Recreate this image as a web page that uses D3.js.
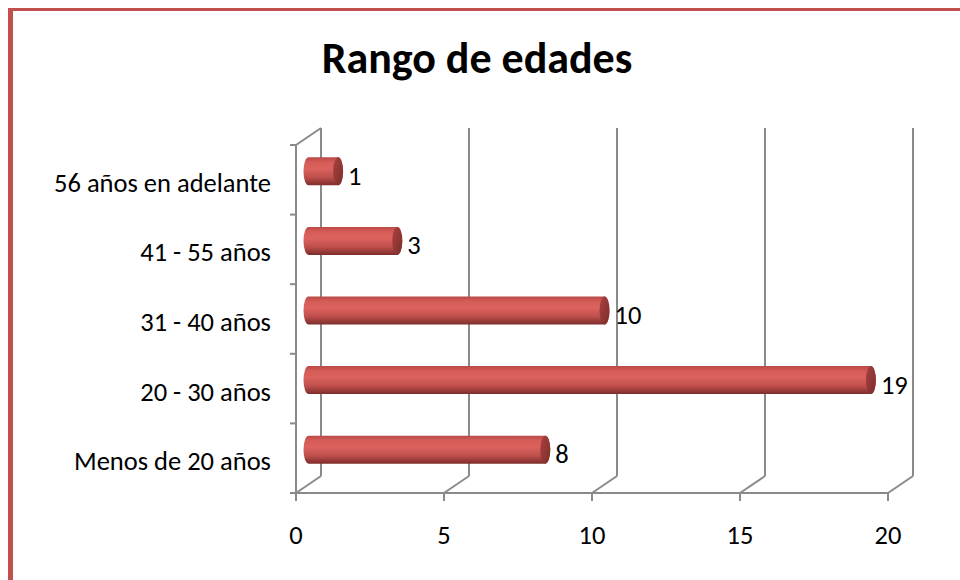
<!DOCTYPE html>
<html>
<head>
<meta charset="utf-8">
<script src="https://cdn.jsdelivr.net/npm/d3@7"></script>
<style>
  body { margin: 0; background: #fff; }
  svg { display: block; font-family: Carlito, Lato, "Liberation Sans", sans-serif; }
</style>
</head>
<body>
<svg id="chart" width="960" height="580"></svg>
<script>
// Data
const categories = ["56 años en adelante", "41 - 55 años", "31 - 40 años", "20 - 30 años", "Menos de 20 años"];
const values = [1, 3, 10, 19, 8];
const xTicks = [0, 5, 10, 15, 20];
const title = "Rango de edades";

const width = 960;
const height = 580;
const depth = { dx: 25, dy: -17 };   // 3d offset front -> back wall
const plot = { left: 296, right: 888, top: 145, bottom: 493 };
const labelSize = 26.5;

const svg = d3.select("#chart");

// Chart border (only left/top visible in frame)
svg.append("rect").attr("x", 8).attr("y", 8).attr("width", 5).attr("height", height).attr("fill", "#c0504d");
svg.append("rect").attr("x", 8).attr("y", 8).attr("width", width).attr("height", 3).attr("fill", "#c0504d");

// Scales (front plane)
const x = d3.scaleLinear().domain([0, 20]).range([plot.left, plot.right]);
const y = d3.scaleBand().domain(categories).range([plot.top, plot.bottom]).padding(0);

const gridColor = "#8a8a8a";
const grid = svg.append("g").attr("stroke", gridColor).attr("stroke-width", 2).attr("fill", "none");

// Back wall vertical gridlines + floor diagonals
xTicks.forEach(t => {
  const fx = x(t);
  grid.append("line")
    .attr("x1", fx + depth.dx).attr("x2", fx + depth.dx)
    .attr("y1", plot.top + depth.dy).attr("y2", plot.bottom + depth.dy);
  grid.append("line")
    .attr("x1", fx).attr("y1", plot.bottom)
    .attr("x2", fx + depth.dx).attr("y2", plot.bottom + depth.dy);
  // tick below baseline
  grid.append("line")
    .attr("x1", fx).attr("x2", fx)
    .attr("y1", plot.bottom).attr("y2", plot.bottom + 8);
});

// Front left axis + top diagonal
grid.append("line")
  .attr("x1", plot.left).attr("x2", plot.left)
  .attr("y1", plot.top).attr("y2", plot.bottom);
grid.append("line")
  .attr("x1", plot.left).attr("y1", plot.top)
  .attr("x2", plot.left + depth.dx).attr("y2", plot.top + depth.dy);
// Front baseline
grid.append("line")
  .attr("x1", plot.left - 6).attr("x2", plot.right)
  .attr("y1", plot.bottom).attr("y2", plot.bottom);

// Category ticks on left axis
const catEdges = categories.map(c => y(c)).concat([plot.bottom]);
catEdges.forEach(v => {
  grid.append("line")
    .attr("x1", plot.left - 6).attr("x2", plot.left)
    .attr("y1", v).attr("y2", v);
});

// Cylinder gradients
const defs = svg.append("defs");
const bodyGrad = defs.append("linearGradient")
  .attr("id", "cyl").attr("x1", 0).attr("y1", 0).attr("x2", 0).attr("y2", 1);
[["0%", "#b94a47"], ["18%", "#d65c58"], ["40%", "#dc625e"], ["70%", "#c0504d"], ["100%", "#7e2d2b"]]
  .forEach(([o, c]) => bodyGrad.append("stop").attr("offset", o).attr("stop-color", c));
const capGrad = defs.append("linearGradient")
  .attr("id", "cap").attr("x1", 0).attr("y1", 0).attr("x2", 1).attr("y2", 1);
[["0%", "#a8423f"], ["100%", "#7c2e2c"]]
  .forEach(([o, c]) => capGrad.append("stop").attr("offset", o).attr("stop-color", c));

// Bars (drawn on mid-depth plane)
const barH = 28;
const rx = 5;
const mid = { dx: depth.dx / 2, dy: depth.dy / 2 };

const bars = svg.append("g")
  .selectAll("g")
  .data(categories.map((c, i) => ({ cat: c, value: values[i] })))
  .join("g");

bars.each(function(d) {
  const g = d3.select(this);
  const cy = y(d.cat) + y.bandwidth() / 2 + mid.dy;
  const x0 = x(0) + mid.dx;
  const x1 = x(d.value) + mid.dx;
  const top = cy - barH / 2;
  const bot = cy + barH / 2;
  g.append("path")
    .attr("d", `M${x0},${top} L${x1},${top} A${rx},${barH / 2} 0 0 1 ${x1},${bot} L${x0},${bot} A${rx},${barH / 2} 0 0 1 ${x0},${top} Z`)
    .attr("fill", "url(#cyl)");
  g.append("ellipse")
    .attr("cx", x1).attr("cy", cy)
    .attr("rx", rx).attr("ry", barH / 2)
    .attr("fill", "url(#cap)");
  g.append("text")
    .attr("x", x1 + rx + 5)
    .attr("y", cy + 13.5)
    .attr("font-size", labelSize)
    .attr("fill", "#000")
    .text(d.value);
});

// Category labels
svg.append("g")
  .selectAll("text")
  .data(categories)
  .join("text")
  .attr("x", 271)
  .attr("y", d => y(d) + y.bandwidth() / 2 + 12)
  .attr("text-anchor", "end")
  .attr("font-size", labelSize)
  .attr("fill", "#000")
  .text(d => d);

// X tick labels
svg.append("g")
  .selectAll("text")
  .data(xTicks)
  .join("text")
  .attr("x", d => x(d))
  .attr("y", 544)
  .attr("text-anchor", "middle")
  .attr("font-size", labelSize)
  .attr("fill", "#000")
  .text(d => d);

// Title
svg.append("text")
  .attr("x", 477)
  .attr("y", 73)
  .attr("text-anchor", "middle")
  .attr("font-size", 44)
  .attr("font-weight", "bold")
  .attr("fill", "#000")
  .text(title);
</script>
</body>
</html>
